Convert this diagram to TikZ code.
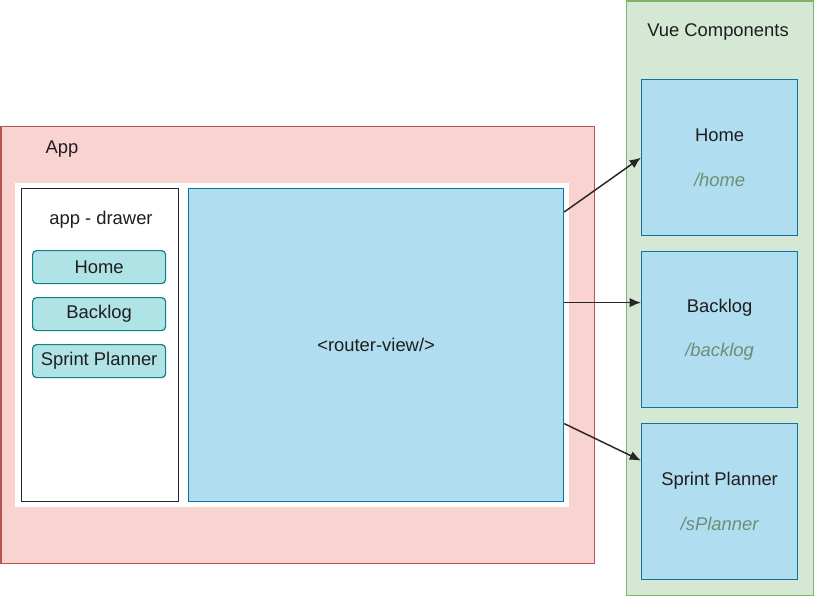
\documentclass[tikz,border=0pt]{standalone}
\usepackage{fontspec}
\setmainfont{Liberation Sans}
\usetikzlibrary{positioning,arrows.meta}
\definecolor{appfill}{HTML}{F9D3D0}
\definecolor{appline}{HTML}{B85450}
\definecolor{vuefill}{HTML}{D5E8D4}
\definecolor{vueline}{HTML}{82B366}
\definecolor{viewfill}{HTML}{B1DDF0}
\definecolor{viewline}{HTML}{10739E}
\definecolor{btnfill}{HTML}{B0E3E6}
\definecolor{btnline}{HTML}{0E8088}
\definecolor{pathcol}{HTML}{6A8F76}
\definecolor{txtcol}{HTML}{1E1E1E}
\begin{document}
\begin{tikzpicture}[x=0.75pt,y=-0.75pt,
  every node/.style={font=\fontsize{13.8}{16}\selectfont, text=txtcol},
  sz/.style 2 args={minimum width=#1*0.75pt, minimum height=#2*0.75pt},
  box/.style={draw, line width=0.9pt, inner sep=0pt, anchor=north west},
  appbox/.style={box, draw=appline, fill=appfill},
  vuebox/.style={box, draw=vueline, fill=vuefill},
  viewbox/.style={box, draw=viewline, fill=viewfill},
  drawerbox/.style={box, draw=black!85, fill=white},
  btn/.style={box, draw=btnline, fill=btnfill, rounded corners=3pt},
  comp/.style={viewbox, align=center},
  lbl/.style={inner sep=0pt},
  arr/.style={-{Latex[length=8.5pt,width=7pt]}, line width=1.1pt, black!85}]
  \useasboundingbox (0,0) rectangle (814,596);
  % App
  \node[appbox, sz={593}{437}] (app) at (0.5,126) {};
  \node[lbl] (applbl) at (62,149) {App};
  \node[box, draw=none, fill=white, sz={554}{324}] (appinner) at (14,182) {};
  \node[drawerbox, sz={157}{313}] (drawer) at (21,188) {};
  \node[lbl] (drawerlbl) at (101,220) {app - drawer};
  \foreach \i/\y/\t in {1/250/Home, 2/297/Backlog, 3/344/Sprint Planner} {
      \node[btn, sz={133}{33}] (btn\i) at (32,\y) {\t};
  }
  \node[viewbox, sz={375}{313}] (router) at (188,188) {<router-view/>};
  % Vue Components
  \node[vuebox, sz={187}{594}] (vue) at (625.5,0.5) {};
  \node[lbl] (vuelbl) at (718,32) {Vue Components};
  \foreach \i/\y/\t/\p in {home/79/Home/home, backlog/251/Backlog/backlog, splanner/423/Sprint Planner/sPlanner} {
      \node[comp, sz={156}{156}] (\i) at (641,\y) {\t\\[17.5pt]{\color{pathcol}\itshape /\p}};
  }
  % routes
  \draw[arr] ([yshift=-24*0.75pt]router.north east) -- (home.west);
  \draw[arr] ([yshift=42.5*0.75pt]router.east) -- ([yshift=27*0.75pt]backlog.west);
  \draw[arr] ([yshift=-78.5*0.75pt]router.east) -- ([yshift=41*0.75pt]splanner.west);
\end{tikzpicture}
\end{document}
